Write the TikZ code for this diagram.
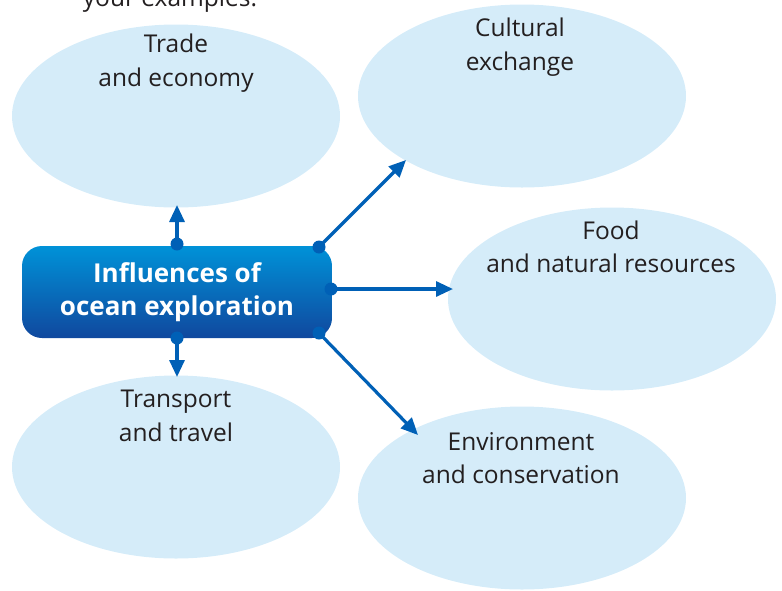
\documentclass[tikz,border=0pt]{standalone}
\usepackage{fontspec}
\setmainfont{Open Sans}
\usetikzlibrary{arrows.meta,shapes.geometric}
\definecolor{ellfill}{RGB}{213,236,249}
\definecolor{arrowblue}{RGB}{0,96,182}
\definecolor{boxtop}{RGB}{0,146,216}
\definecolor{boxbot}{RGB}{16,72,158}
\definecolor{txt}{RGB}{35,31,32}
\tikzset{
  bubble/.style={ellipse, fill=ellfill, draw=none, minimum width=328pt, minimum height=183pt, inner sep=0pt},
  lbl/.style={align=center, text=txt, font=\fontsize{24.5}{33.5}\selectfont, inner sep=0pt},
  conn/.style={arrowblue, line width=3.2pt, -{Triangle[length=17pt,width=15pt]}},
  dotc/.style={circle, fill=arrowblue, inner sep=0pt, minimum size=13pt},
  hub/.style={rounded corners=20pt, top color=boxtop, bottom color=boxbot, draw=none,
    minimum width=310pt, minimum height=92pt, align=center, text=white,
    font=\bfseries\fontsize{26}{33}\selectfont}
}
\begin{document}
\begin{tikzpicture}[x=1pt,y=-1pt]
\useasboundingbox (0,0) rectangle (782,590);
\clip (0,0) rectangle (782,590);
\node[text=txt, font=\fontsize{24.5}{28}\selectfont, anchor=base] (top) at (170,6) {your examples.};
% bubbles
\node[bubble] (trade) at (176,116) {};
\node[bubble] (cult) at (522,96) {};
\node[bubble] (food) at (612,299) {};
\node[bubble] (trans) at (176,467) {};
\node[bubble] (env) at (522,498) {};
% labels
\node[lbl] (tradeL) at (176,63) {Trade\\and economy};
\node[lbl] (cultL) at (520,47) {Cultural\\exchange};
\node[lbl] (foodL) at (611,247) {Food\\and natural resources};
\node[lbl] (transL) at (176,416) {Transport\\and travel};
\node[lbl] (envL) at (521,458) {Environment\\and conservation};
% hub
\node[hub] (hub) at (177,292) {Influences of\\ocean exploration};
% dots
\node[dotc] (d1) at (177,244) {};
\node[dotc] (d2) at (177,338) {};
\node[dotc] (d3) at (319,247) {};
\node[dotc] (d4) at (331,289) {};
\node[dotc] (d5) at (319,333) {};
% tips
\coordinate (t1) at (177,205);
\coordinate (t2) at (177,377);
\coordinate (t3) at (406,160);
\coordinate (t4) at (453,289);
\coordinate (t5) at (418,435);
\draw[conn] (d1.center) -- (t1);
\draw[conn] (d2.center) -- (t2);
\draw[conn] (d3.center) -- (t3);
\draw[conn] (d4.center) -- (t4);
\draw[conn] (d5.center) -- (t5);
\end{tikzpicture}
\end{document}
